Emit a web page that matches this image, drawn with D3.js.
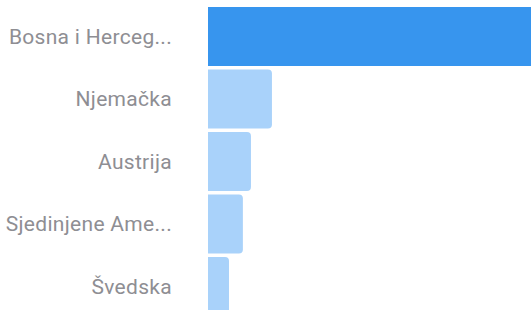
<html>
<head>
    <meta charset="utf-8">
    <style>
        body {
            margin: 0;
            background-color: #ffffff;
        }
        .lbl text {
            fill: #8e8e93;
            font-family: Roboto, "Noto Sans", sans-serif;
            font-size: 21px;
            letter-spacing: 0.3px;
        }
    </style>
</head>
<body>
    <svg id="container" width="531" height="310" xmlns="http://www.w3.org/2000/svg" version="1.1">
        <g id="bars"></g>
        <g id="labels" class="lbl"></g>
    </svg>
<script src="https://cdn.jsdelivr.net/npm/d3@7"></script>
<script>
    let countries = ["Bosna i Herceg...", "Njemačka", "Austrija", "Sjedinjene Ame...", "Švedska"]
    let values = [100, 19.8, 13.3, 10.8, 6.5]
    let highlighted = ["Bosna i Herceg..."]

    let svg = d3.select("#container")

    let xScale = d3.scaleLinear()
        .domain([0, 100])
        .range([208, 531])

    let yScale = d3.scaleBand()
        .domain(countries)
        .range([7, 316])
        .paddingInner(0.056)
        .paddingOuter(0)

    let data = countries.map((c, i) => ({ name: c, value: values[i] }))

    // square-left, rounded-right bars
    function barPath(d) {
        let x0 = xScale(0)
        let x1 = xScale(d.value)
        let y0 = yScale(d.name)
        let h = yScale.bandwidth()
        let r = highlighted.includes(d.name) ? 0 : 4
        return `M${x0},${y0} H${x1 - r} Q${x1},${y0} ${x1},${y0 + r} V${y0 + h - r} Q${x1},${y0 + h} ${x1 - r},${y0 + h} H${x0} Z`
    }

    d3.select("#bars").selectAll("path")
        .data(data)
        .enter()
        .append("path")
        .attr("d", barPath)
        .style("fill", d => highlighted.includes(d.name) ? "#3795ee" : "#a9d2fa")

    d3.select("#labels").selectAll("text")
        .data(data)
        .enter()
        .append("text")
        .attr("x", 172)
        .attr("y", d => yScale(d.name) + yScale.bandwidth() / 2)
        .attr("text-anchor", "end")
        .attr("dominant-baseline", "central")
        .text(d => d.name)
</script>
</body>
</html>
